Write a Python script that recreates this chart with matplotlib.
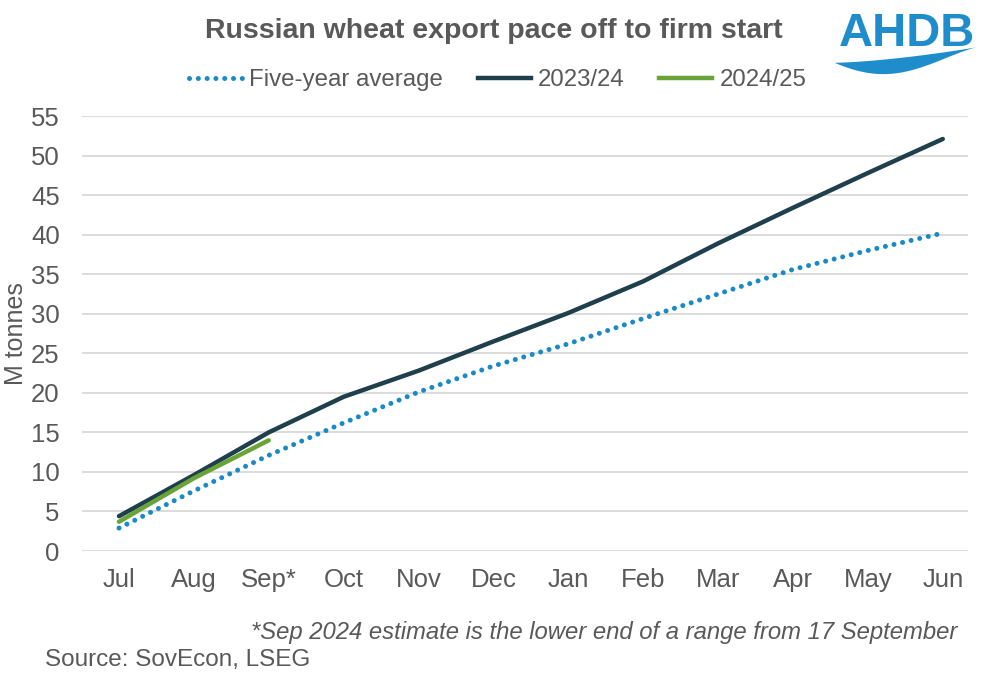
import matplotlib; matplotlib.use("Agg")
import matplotlib.pyplot as plt
import numpy as np
from matplotlib.lines import Line2D

plt.rcParams.update({"font.family": ["Liberation Sans", "DejaVu Sans"], "font.size": 18})

months = ["Jul", "Aug", "Sep*", "Oct", "Nov", "Dec", "Jan", "Feb", "Mar", "Apr", "May", "Jun"]
avg_5yr = [2.9, 7.6, 12.1, 16.2, 20.1, 23.4, 26.2, 29.4, 32.5, 35.6, 38.0, 40.2]
y2023 = [4.4, 9.6, 15.0, 19.5, 22.8, 26.5, 30.1, 34.1, 38.9, 43.4, 47.8, 52.1]
y2024 = [3.7, 9.2, 14.0]

c_avg = "#1a8ac6"
c_23 = "#1f3f4c"
c_24 = "#6aa337"
grey = "#595959"

fig = plt.figure(figsize=(9.82, 6.75), dpi=100)
ax = fig.add_axes([0.0835, 0.1837, 0.9025, 0.6444])
x = np.arange(len(months))

ax.plot(x, avg_5yr, color=c_avg, lw=3.6, dashes=(0.01, 1.75), dash_capstyle="round", label="Five-year average")
ax.plot(x, y2023, color=c_23, lw=3.2, solid_capstyle="round", label="2023/24")
ax.plot(x[:len(y2024)], y2024, color=c_24, lw=3.2, solid_capstyle="round", label="2024/25")

ax.set_xlim(-0.494, 11.34)
ax.set_ylim(0, 55)
ax.set_yticks(np.arange(0, 56, 5))
ax.set_xticks(x)
ax.set_xticklabels(months)
ax.grid(axis="y", color="#d9d9d9", lw=1.3)
ax.set_axisbelow(True)
for s in ax.spines.values():
    s.set_visible(False)
ax.tick_params(length=0, colors=grey, labelsize=18.5, pad=12)
ax.tick_params(axis="y", pad=16)
ax.set_ylabel("M tonnes", color=grey, fontsize=18, labelpad=2)

fig.text(0.503, 0.954, "Russian wheat export pace off to firm start", ha="center", va="center",
         fontsize=20.5, fontweight="bold", color=grey)

h = [Line2D([], [], color=c_avg, lw=3.6, dashes=(0.01, 1.75), dash_capstyle="round"),
     Line2D([], [], color=c_23, lw=3.2),
     Line2D([], [], color=c_24, lw=3.2)]
fig.legend(h, ["Five-year average", "2023/24", "2024/25"], loc="center", bbox_to_anchor=(0.507, 0.881),
           ncol=3, frameon=False, fontsize=17.3, handlelength=2.2, handletextpad=0.3,
           columnspacing=1.44, labelcolor=grey)

fig.text(0.975, 0.063, "*Sep 2024 estimate is the lower end of a range from 17 September",
         ha="right", va="center", fontsize=17.2, style="italic", color=grey)
fig.text(0.046, 0.022, "Source: SovEcon, LSEG", ha="left", va="center", fontsize=17.5, color=grey)

# logo
fig.text(0.924, 0.95, "AHDB", ha="center", va="center", fontsize=34, fontweight="bold", color="#1f8dcc")
wx = np.linspace(0.850, 0.995, 80)
t = (wx - wx[0]) / (wx[-1] - wx[0])
top = 0.907 + 0.023 * t ** 1.5
bot = top - 0.03 * np.sin(np.pi * t) * np.sqrt(1 - t)
fig.patches.append(plt.Polygon(np.column_stack([np.r_[wx, wx[::-1]], np.r_[top, bot[::-1]]]),
                               closed=True, transform=fig.transFigure, color="#1f8dcc", lw=0))

fig.savefig("out.png", dpi=100)
